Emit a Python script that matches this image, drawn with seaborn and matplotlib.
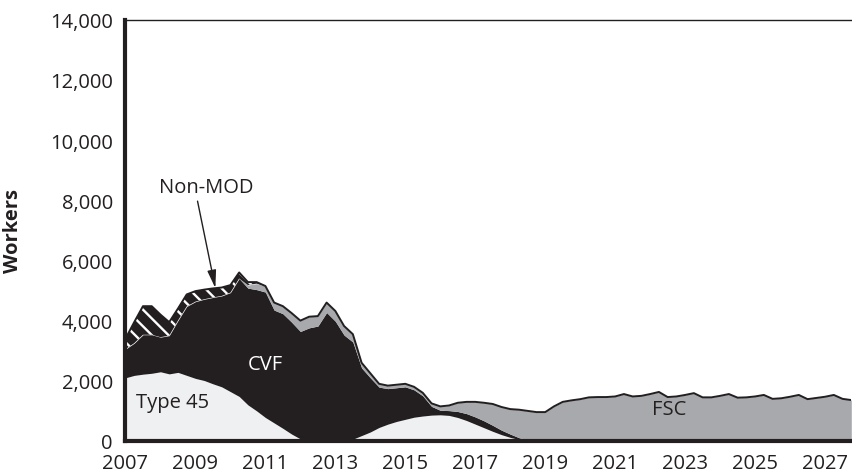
import numpy as np
import matplotlib.pyplot as plt
import seaborn as sns

# quarterly points, 2007 Q1 .. 2027 Q4
years = np.arange(2007, 2028, 0.25)

type45 = [2100, 2180, 2220, 2250, 2300, 2230, 2280, 2180,
          2080, 2010, 1900, 1800, 1640, 1480, 1200, 1000,
          780, 600, 420, 230, 70, 0, 0, 0,
          0, 20, 60, 180, 300, 450, 560, 650,
          720, 790, 830, 860, 870, 850, 780, 680,
          560, 440, 320, 210, 120, 50, 0, 0] + [0] * 36

cvf = [950, 1070, 1310, 1280, 1150, 1270, 1720, 2290,
       2550, 2700, 2870, 3020, 3290, 3920, 3880, 4030,
       4170, 3750, 3810, 3720, 3570, 3760, 3820, 4270,
       3980, 3500, 3230, 2250, 1800, 1340, 1180, 1120,
       1080, 910, 670, 290, 150, 160, 200, 230,
       240, 230, 200, 150, 110, 60, 30, 10] + [0] * 36

fsc = [0] * 12 + [0, 0, 100, 200,
                  200, 250, 250, 300, 360, 370, 330, 330,
                  340, 300, 260, 170, 150, 110, 100, 100,
                  100, 100, 100, 100, 130, 170, 290, 390,
                  500, 600, 710, 770, 830, 930, 970, 950,
                  960, 1150, 1300, 1350, 1390, 1450, 1460, 1460,
                  1480, 1560, 1480, 1500, 1560, 1630, 1460, 1480,
                  1530, 1590, 1450, 1450, 1500, 1560, 1440, 1450,
                  1480, 1530, 1400, 1420, 1470, 1530, 1390, 1430,
                  1470, 1530, 1400, 1360]

nonmod = [350, 700, 950, 950, 750, 450, 400, 400,
          350, 320, 300, 280, 250, 200, 100, 50] + [0] * 68

below_nonmod = np.array(type45) + np.array(cvf) + np.array(fsc)
total = below_nonmod + np.array(nonmod)

year_ticks = list(range(2007, 2028))
y_ticks = list(range(0, 14001, 2000))

sns.set_theme(style='white')
plt.rcParams['font.family'] = ['Open Sans', 'DejaVu Sans']
plt.rcParams['hatch.color'] = 'white'
plt.rcParams['hatch.linewidth'] = 1.7

dark = '#231f20'
light = '#eff0f1'
grey = '#a7a9ac'

fig = plt.figure(figsize=(8.53, 4.77), dpi=100)
ax = fig.add_axes([0.1471, 0.0734, 0.8509, 0.8832])

ax.stackplot(years, type45, cvf, fsc, colors=[light, dark, grey], linewidth=0)
# Non-MOD: white diagonal hatch on black
ax.fill_between(years, below_nonmod, total, facecolor=dark, edgecolor='white',
                hatch='\\\\', linewidth=0)

sns.lineplot(x=years, y=total, color=dark, linewidth=1.4, ax=ax)

ax.set_xlim(2007, 2027.75)
ax.set_ylim(0, 14000)

ax.set_xticks(year_ticks)
ax.set_xticklabels([str(y) if y % 2 == 1 else '' for y in year_ticks])
ax.set_yticks(y_ticks)
ax.set_yticklabels([f'{v:,}' for v in y_ticks])
ax.tick_params(axis='both', direction='in', length=15.5, width=1,
               color=dark, labelsize=14.5, labelcolor=dark)
ax.tick_params(axis='y', pad=9)
ax.tick_params(axis='x', pad=9)

for side in ['left', 'bottom']:
    ax.spines[side].set_linewidth(3)
    ax.spines[side].set_color(dark)
ax.spines['top'].set_linewidth(1)
ax.spines['top'].set_color(dark)
ax.spines['right'].set_visible(False)

ax.set_ylabel('Workers', fontsize=14.5, fontweight='bold', color=dark)
ax.yaxis.set_label_coords(-0.141, 0.5)

ax.text(2007.29, 1280, 'Type 45', fontsize=14.5, color=dark, va='center', ha='left')
ax.text(2011.0, 2560, 'CVF', fontsize=14.5, color='white', va='center', ha='center')
ax.text(2022.54, 1060, 'FSC', fontsize=14.5, color=dark, va='center', ha='center')
ax.text(2009.31, 8430, 'Non-MOD', fontsize=14.5, color=dark, va='center', ha='center')
ax.annotate('', xy=(2009.57, 5080), xytext=(2009.06, 7970),
            arrowprops=dict(arrowstyle='-|>,head_width=0.22,head_length=0.9',
                            color=dark, lw=1, shrinkA=0, shrinkB=0))

plt.savefig('out.png', dpi=100)
